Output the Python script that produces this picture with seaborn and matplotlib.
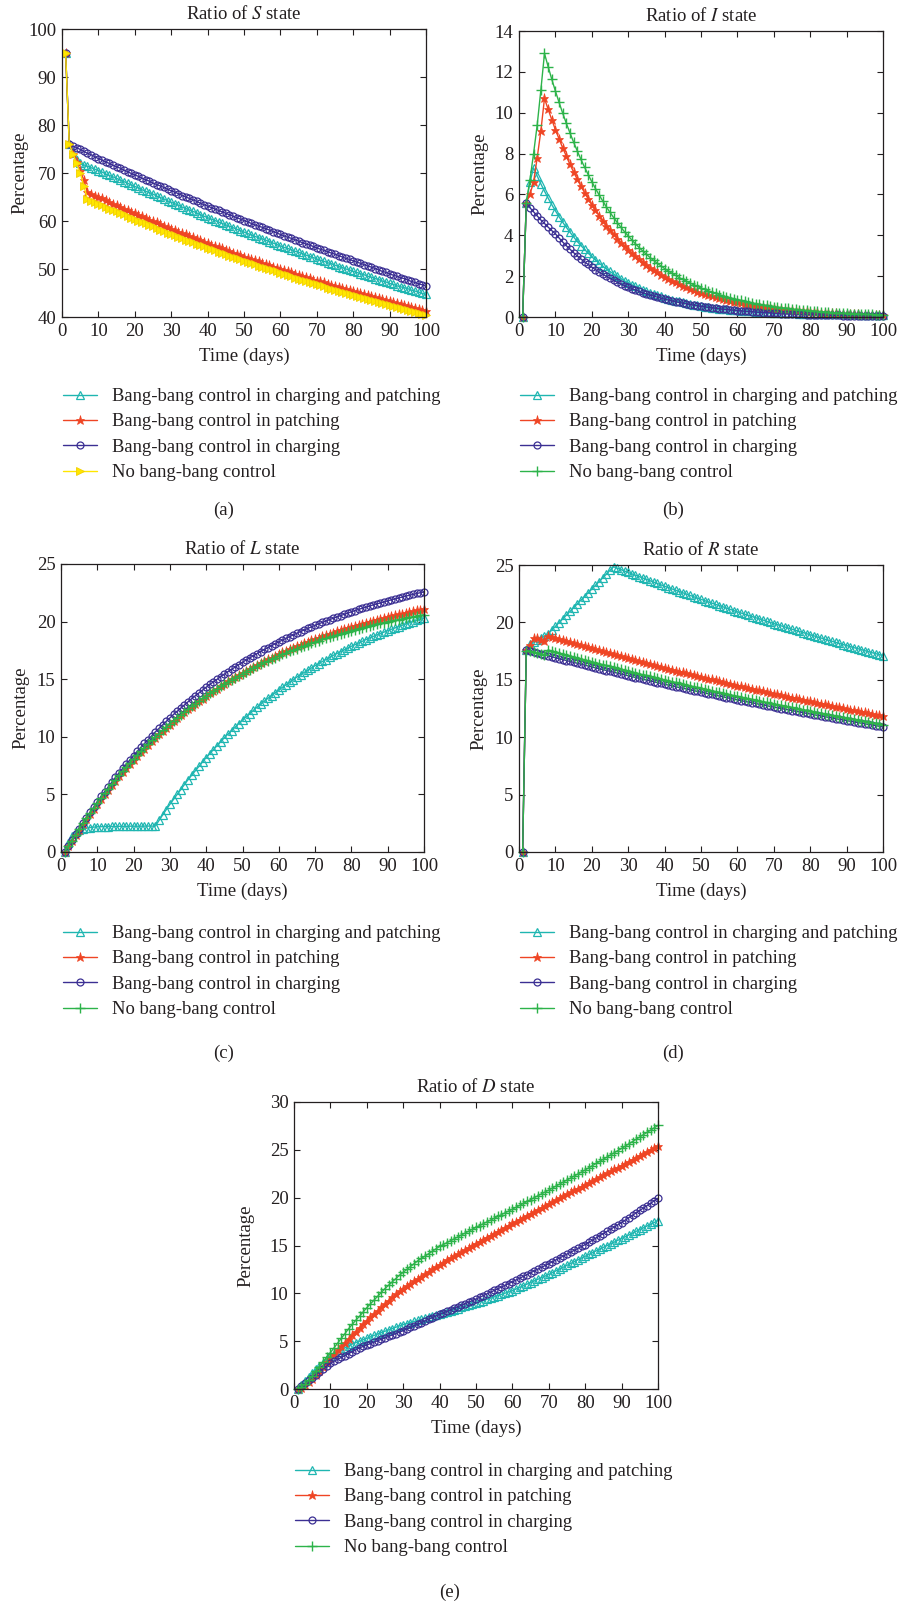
import matplotlib
matplotlib.use("Agg")
import matplotlib.pyplot as plt
from matplotlib.lines import Line2D
import pandas as pd
import seaborn as sns

# ---------------- data ----------------
days = list(range(1, 101))
series_names = ["Bang-bang control in charging and patching",
                "Bang-bang control in patching",
                "Bang-bang control in charging",
                "No bang-bang control"]
xticks = list(range(0, 101, 10))

S_both = [95.0, 76.0, 74.2, 72.8, 72.0, 71.7, 71.4, 71.1, 70.8, 70.5,
          70.2, 69.8, 69.5, 69.2, 68.9, 68.5, 68.2, 67.9, 67.5, 67.2,
          66.9, 66.5, 66.2, 65.9, 65.6, 65.2, 64.9, 64.6, 64.2, 63.9,
          63.6, 63.3, 62.9, 62.6, 62.3, 62.0, 61.7, 61.3, 61.0, 60.7,
          60.4, 60.1, 59.8, 59.5, 59.2, 58.9, 58.6, 58.3, 58.0, 57.7,
          57.4, 57.1, 56.8, 56.5, 56.3, 56.0, 55.7, 55.4, 55.1, 54.8,
          54.5, 54.3, 54.0, 53.7, 53.5, 53.2, 52.9, 52.6, 52.4, 52.1,
          51.8, 51.6, 51.3, 51.1, 50.8, 50.5, 50.3, 50.0, 49.8, 49.5,
          49.3, 49.0, 48.8, 48.5, 48.3, 48.0, 47.8, 47.5, 47.3, 47.0,
          46.8, 46.5, 46.3, 46.1, 45.9, 45.6, 45.4, 45.2, 44.9, 44.7]
S_patch = [95.0, 76.0, 74.0, 72.3, 70.5, 68.5, 66.0, 65.7, 65.3, 65.0,
           64.7, 64.3, 64.0, 63.6, 63.3, 63.0, 62.6, 62.3, 61.9, 61.6,
           61.3, 61.0, 60.6, 60.3, 60.0, 59.7, 59.4, 59.0, 58.7, 58.4,
           58.1, 57.8, 57.5, 57.2, 56.9, 56.6, 56.3, 56.0, 55.7, 55.4,
           55.1, 54.8, 54.6, 54.3, 54.0, 53.7, 53.4, 53.2, 52.9, 52.6,
           52.3, 52.1, 51.8, 51.6, 51.3, 51.0, 50.8, 50.5, 50.3, 50.0,
           49.8, 49.5, 49.3, 49.0, 48.8, 48.6, 48.3, 48.1, 47.8, 47.6,
           47.4, 47.2, 46.9, 46.7, 46.5, 46.3, 46.1, 45.8, 45.6, 45.4,
           45.2, 45.0, 44.8, 44.6, 44.4, 44.1, 43.9, 43.7, 43.5, 43.3,
           43.1, 42.9, 42.7, 42.5, 42.3, 42.1, 41.9, 41.7, 41.5, 41.3]
S_charge = [95.0, 76.0, 75.6, 75.3, 74.9, 74.5, 74.1, 73.8, 73.4, 73.0,
            72.7, 72.3, 72.0, 71.6, 71.3, 71.0, 70.6, 70.3, 69.9, 69.6,
            69.3, 68.9, 68.6, 68.3, 67.9, 67.6, 67.3, 67.0, 66.6, 66.3,
            66.0, 65.7, 65.3, 65.0, 64.7, 64.4, 64.1, 63.7, 63.4, 63.1,
            62.8, 62.5, 62.2, 61.9, 61.6, 61.3, 61.0, 60.7, 60.4, 60.1,
            59.8, 59.5, 59.2, 58.9, 58.7, 58.4, 58.1, 57.8, 57.5, 57.2,
            56.9, 56.6, 56.4, 56.1, 55.8, 55.5, 55.2, 55.0, 54.7, 54.4,
            54.1, 53.9, 53.6, 53.3, 53.1, 52.8, 52.5, 52.2, 52.0, 51.7,
            51.4, 51.2, 50.9, 50.6, 50.4, 50.1, 49.8, 49.5, 49.3, 49.0,
            48.7, 48.5, 48.2, 48.0, 47.7, 47.4, 47.2, 46.9, 46.7, 46.4]
S_none = [95.0, 76.0, 74.0, 72.0, 70.0, 67.3, 64.5, 64.2, 63.9, 63.6,
          63.3, 63.0, 62.6, 62.3, 62.0, 61.7, 61.4, 61.0, 60.7, 60.4,
          60.1, 59.8, 59.5, 59.2, 58.9, 58.5, 58.2, 57.9, 57.6, 57.3,
          57.0, 56.7, 56.4, 56.1, 55.9, 55.6, 55.3, 55.0, 54.7, 54.4,
          54.1, 53.9, 53.6, 53.3, 53.1, 52.8, 52.5, 52.2, 52.0, 51.7,
          51.5, 51.2, 51.0, 50.7, 50.5, 50.2, 50.0, 49.7, 49.5, 49.2,
          49.0, 48.7, 48.5, 48.2, 48.0, 47.8, 47.5, 47.3, 47.0, 46.8,
          46.6, 46.4, 46.1, 45.9, 45.7, 45.5, 45.3, 45.0, 44.8, 44.6,
          44.4, 44.2, 44.0, 43.8, 43.6, 43.3, 43.1, 42.9, 42.7, 42.5,
          42.3, 42.1, 41.9, 41.7, 41.5, 41.3, 41.1, 40.9, 40.7, 40.5]

I_both = [0.0, 5.6, 6.6, 7.3, 6.90, 6.52, 6.16, 5.82, 5.50, 5.20,
          4.91, 4.64, 4.39, 4.15, 3.92, 3.70, 3.50, 3.31, 3.13, 2.95,
          2.79, 2.64, 2.49, 2.36, 2.23, 2.10, 1.99, 1.88, 1.77, 1.68,
          1.58, 1.50, 1.42, 1.34, 1.26, 1.19, 1.13, 1.07, 1.01, 0.95,
          0.90, 0.85, 0.80, 0.76, 0.72, 0.68, 0.64, 0.61, 0.57, 0.54,
          0.51, 0.49, 0.46, 0.44, 0.41, 0.39, 0.37, 0.35, 0.34, 0.32,
          0.31, 0.29, 0.28, 0.27, 0.26, 0.25, 0.24, 0.23, 0.22, 0.21,
          0.21, 0.20, 0.19, 0.19, 0.18, 0.18, 0.17, 0.17, 0.16, 0.16,
          0.16, 0.15, 0.15, 0.15, 0.14, 0.14, 0.14, 0.14, 0.13, 0.13,
          0.13, 0.13, 0.13, 0.12, 0.12, 0.12, 0.12, 0.12, 0.12, 0.12]
I_patch = [0.0, 5.6, 6.0, 6.6, 7.8, 9.1, 10.7, 10.17, 9.66, 9.17,
           8.72, 8.28, 7.87, 7.47, 7.10, 6.74, 6.41, 6.09, 5.78, 5.49,
           5.22, 4.96, 4.71, 4.47, 4.25, 4.04, 3.84, 3.64, 3.46, 3.29,
           3.12, 2.97, 2.82, 2.68, 2.54, 2.42, 2.30, 2.18, 2.07, 1.97,
           1.87, 1.78, 1.69, 1.60, 1.52, 1.45, 1.37, 1.31, 1.24, 1.18,
           1.12, 1.06, 1.01, 0.96, 0.91, 0.87, 0.82, 0.78, 0.74, 0.71,
           0.67, 0.64, 0.61, 0.57, 0.55, 0.52, 0.49, 0.47, 0.45, 0.42,
           0.40, 0.38, 0.36, 0.34, 0.33, 0.31, 0.30, 0.28, 0.27, 0.25,
           0.24, 0.23, 0.22, 0.21, 0.20, 0.19, 0.18, 0.17, 0.16, 0.15,
           0.14, 0.14, 0.13, 0.12, 0.12, 0.11, 0.11, 0.10, 0.10, 0.09]
I_charge = [0.0, 5.6, 5.35, 5.15, 4.95, 4.75, 4.58, 4.40, 4.23, 4.07,
            3.87, 3.67, 3.49, 3.32, 3.15, 2.99, 2.84, 2.70, 2.57, 2.44,
            2.32, 2.20, 2.09, 1.99, 1.89, 1.79, 1.70, 1.62, 1.54, 1.46,
            1.39, 1.32, 1.25, 1.19, 1.13, 1.07, 1.02, 0.97, 0.92, 0.87,
            0.83, 0.79, 0.75, 0.71, 0.68, 0.64, 0.61, 0.58, 0.55, 0.52,
            0.50, 0.47, 0.45, 0.43, 0.40, 0.38, 0.37, 0.35, 0.33, 0.31,
            0.30, 0.28, 0.27, 0.26, 0.24, 0.23, 0.22, 0.21, 0.20, 0.19,
            0.18, 0.17, 0.16, 0.15, 0.15, 0.14, 0.13, 0.13, 0.12, 0.11,
            0.11, 0.10, 0.10, 0.09, 0.09, 0.08, 0.08, 0.08, 0.07, 0.07,
            0.06, 0.06, 0.06, 0.06, 0.05, 0.05, 0.05, 0.05, 0.04, 0.04]
I_none = [0.0, 5.6, 6.7, 8.0, 9.4, 11.1, 12.9, 12.26, 11.64, 11.06,
          10.51, 9.98, 9.48, 9.01, 8.56, 8.13, 7.72, 7.34, 6.97, 6.62,
          6.29, 5.98, 5.68, 5.39, 5.12, 4.87, 4.62, 4.39, 4.17, 3.97,
          3.77, 3.58, 3.40, 3.23, 3.07, 2.91, 2.77, 2.63, 2.50, 2.37,
          2.25, 2.14, 2.04, 1.93, 1.84, 1.75, 1.66, 1.58, 1.50, 1.42,
          1.35, 1.28, 1.22, 1.16, 1.10, 1.04, 0.99, 0.94, 0.90, 0.85,
          0.81, 0.77, 0.73, 0.69, 0.66, 0.63, 0.59, 0.57, 0.54, 0.51,
          0.48, 0.46, 0.44, 0.42, 0.39, 0.37, 0.36, 0.34, 0.32, 0.31,
          0.29, 0.27, 0.26, 0.25, 0.24, 0.22, 0.21, 0.20, 0.19, 0.18,
          0.17, 0.17, 0.16, 0.15, 0.14, 0.13, 0.13, 0.12, 0.11, 0.11]

L_both = [0.00, 0.80, 1.35, 1.70, 1.90, 2.00, 2.07, 2.12, 2.16, 2.19,
          2.20, 2.21, 2.21, 2.22, 2.22, 2.23, 2.23, 2.23, 2.24, 2.24,
          2.24, 2.24, 2.25, 2.25, 2.25, 2.25, 2.74, 3.21, 3.68, 4.14,
          4.57, 5.00, 5.42, 5.85, 6.28, 6.66, 7.05, 7.43, 7.82, 8.20,
          8.54, 8.89, 9.23, 9.58, 9.92, 10.23, 10.54, 10.84, 11.15, 11.46,
          11.74, 12.01, 12.29, 12.56, 12.84, 13.09, 13.34, 13.58, 13.83, 14.08,
          14.30, 14.52, 14.75, 14.97, 15.19, 15.39, 15.59, 15.78, 15.98, 16.18,
          16.36, 16.54, 16.71, 16.89, 17.07, 17.23, 17.39, 17.54, 17.70, 17.86,
          18.00, 18.15, 18.29, 18.44, 18.58, 18.71, 18.84, 18.96, 19.09, 19.22,
          19.33, 19.45, 19.56, 19.68, 19.79, 19.89, 20.00, 20.10, 20.20, 20.30]
L_patch = [0.00, 0.49, 0.97, 1.46, 1.94, 2.43, 2.87, 3.30, 3.74, 4.17,
           4.61, 5.00, 5.39, 5.79, 6.18, 6.57, 6.92, 7.28, 7.63, 7.99,
           8.34, 8.66, 8.97, 9.29, 9.60, 9.92, 10.21, 10.49, 10.78, 11.06,
           11.35, 11.61, 11.86, 12.12, 12.37, 12.63, 12.86, 13.09, 13.32, 13.55,
           13.78, 13.99, 14.19, 14.40, 14.60, 14.81, 15.00, 15.18, 15.37, 15.55,
           15.74, 15.91, 16.08, 16.24, 16.41, 16.58, 16.73, 16.88, 17.03, 17.18,
           17.33, 17.47, 17.60, 17.74, 17.87, 18.01, 18.13, 18.25, 18.37, 18.49,
           18.61, 18.72, 18.83, 18.94, 19.05, 19.16, 19.26, 19.36, 19.45, 19.55,
           19.65, 19.74, 19.83, 19.91, 20.00, 20.09, 20.17, 20.25, 20.32, 20.40,
           20.48, 20.55, 20.62, 20.70, 20.77, 20.84, 20.91, 20.97, 21.04, 21.10]
L_charge = [0.00, 0.51, 1.01, 1.52, 2.02, 2.53, 2.99, 3.45, 3.90, 4.36,
            4.82, 5.23, 5.64, 6.06, 6.47, 6.88, 7.25, 7.62, 8.00, 8.37,
            8.74, 9.08, 9.42, 9.75, 10.09, 10.43, 10.73, 11.03, 11.34, 11.64,
            11.94, 12.21, 12.49, 12.76, 13.04, 13.31, 13.56, 13.81, 14.05, 14.30,
            14.55, 14.77, 14.99, 15.22, 15.44, 15.66, 15.86, 16.06, 16.27, 16.47,
            16.67, 16.85, 17.03, 17.22, 17.40, 17.58, 17.74, 17.91, 18.07, 18.24,
            18.40, 18.55, 18.70, 18.84, 18.99, 19.14, 19.27, 19.41, 19.54, 19.68,
            19.81, 19.93, 20.05, 20.17, 20.29, 20.41, 20.52, 20.63, 20.74, 20.85,
            20.96, 21.06, 21.16, 21.25, 21.35, 21.45, 21.54, 21.62, 21.71, 21.80,
            21.89, 21.97, 22.05, 22.13, 22.21, 22.29, 22.36, 22.44, 22.51, 22.58]
L_none = [0.00, 0.50, 0.99, 1.49, 1.98, 2.48, 2.92, 3.36, 3.81, 4.25,
          4.69, 5.09, 5.48, 5.88, 6.27, 6.67, 7.02, 7.37, 7.73, 8.08,
          8.43, 8.74, 9.06, 9.37, 9.69, 10.00, 10.28, 10.56, 10.85, 11.13,
          11.41, 11.66, 11.91, 12.16, 12.41, 12.66, 12.88, 13.10, 13.33, 13.55,
          13.77, 13.97, 14.17, 14.37, 14.57, 14.77, 14.95, 15.13, 15.30, 15.48,
          15.66, 15.82, 15.98, 16.13, 16.29, 16.45, 16.59, 16.73, 16.88, 17.02,
          17.16, 17.29, 17.41, 17.54, 17.66, 17.79, 17.90, 18.01, 18.13, 18.24,
          18.35, 18.45, 18.55, 18.65, 18.75, 18.85, 18.94, 19.03, 19.12, 19.21,
          19.30, 19.38, 19.46, 19.54, 19.62, 19.70, 19.77, 19.84, 19.91, 19.98,
          20.05, 20.11, 20.18, 20.24, 20.31, 20.37, 20.43, 20.48, 20.54, 20.60]

R_both = [0.00, 17.60, 18.10, 18.30, 18.50, 18.65, 18.80, 19.00, 19.33, 19.65,
          19.98, 20.30, 20.63, 20.95, 21.28, 21.60, 21.93, 22.25, 22.58, 22.90,
          23.23, 23.55, 23.88, 24.20, 24.53, 24.85, 24.72, 24.60, 24.47, 24.35,
          24.23, 24.11, 23.99, 23.87, 23.75, 23.63, 23.51, 23.39, 23.27, 23.15,
          23.04, 22.92, 22.81, 22.69, 22.58, 22.47, 22.35, 22.24, 22.12, 22.01,
          21.90, 21.79, 21.68, 21.57, 21.47, 21.36, 21.25, 21.14, 21.03, 20.92,
          20.82, 20.72, 20.61, 20.51, 20.41, 20.31, 20.21, 20.10, 20.00, 19.90,
          19.80, 19.70, 19.61, 19.51, 19.41, 19.31, 19.21, 19.12, 19.02, 18.92,
          18.83, 18.73, 18.64, 18.54, 18.45, 18.36, 18.26, 18.17, 18.07, 17.98,
          17.89, 17.80, 17.72, 17.63, 17.54, 17.45, 17.36, 17.28, 17.19, 17.10]
R_patch = [0.00, 17.60, 18.00, 18.60, 18.60, 18.50, 18.40, 18.85, 18.76, 18.66,
           18.57, 18.48, 18.38, 18.29, 18.20, 18.11, 18.02, 17.92, 17.83, 17.74,
           17.65, 17.57, 17.48, 17.39, 17.31, 17.22, 17.13, 17.04, 16.96, 16.87,
           16.79, 16.70, 16.62, 16.54, 16.46, 16.37, 16.29, 16.21, 16.12, 16.04,
           15.96, 15.88, 15.80, 15.72, 15.65, 15.57, 15.49, 15.41, 15.33, 15.25,
           15.18, 15.10, 15.03, 14.95, 14.88, 14.80, 14.73, 14.65, 14.58, 14.50,
           14.43, 14.36, 14.29, 14.22, 14.15, 14.07, 14.00, 13.93, 13.86, 13.79,
           13.72, 13.65, 13.59, 13.52, 13.45, 13.38, 13.31, 13.25, 13.18, 13.11,
           13.05, 12.98, 12.92, 12.85, 12.79, 12.72, 12.66, 12.59, 12.53, 12.46,
           12.40, 12.34, 12.28, 12.22, 12.16, 12.09, 12.03, 11.97, 11.91, 11.85]
R_charge = [0.00, 17.60, 17.52, 17.43, 17.35, 17.26, 17.18, 17.09, 17.01, 16.92,
            16.84, 16.76, 16.68, 16.60, 16.52, 16.44, 16.36, 16.28, 16.20, 16.12,
            16.04, 15.97, 15.89, 15.81, 15.74, 15.66, 15.58, 15.50, 15.43, 15.35,
            15.28, 15.20, 15.13, 15.05, 14.98, 14.91, 14.83, 14.76, 14.68, 14.61,
            14.54, 14.47, 14.40, 14.33, 14.27, 14.20, 14.13, 14.06, 13.99, 13.92,
            13.85, 13.79, 13.72, 13.65, 13.59, 13.52, 13.45, 13.38, 13.32, 13.25,
            13.19, 13.12, 13.06, 13.00, 12.94, 12.87, 12.81, 12.75, 12.68, 12.62,
            12.56, 12.50, 12.44, 12.38, 12.32, 12.26, 12.20, 12.14, 12.08, 12.02,
            11.96, 11.90, 11.85, 11.79, 11.73, 11.67, 11.61, 11.56, 11.50, 11.44,
            11.39, 11.33, 11.28, 11.22, 11.17, 11.11, 11.06, 11.01, 10.95, 10.90]
R_none = [0.00, 17.55, 17.50, 17.42, 17.34, 17.26, 17.18, 17.60, 17.51, 17.42,
          17.34, 17.25, 17.17, 17.08, 17.00, 16.91, 16.83, 16.74, 16.66, 16.57,
          16.49, 16.41, 16.33, 16.25, 16.17, 16.08, 16.00, 15.92, 15.84, 15.76,
          15.68, 15.61, 15.53, 15.45, 15.38, 15.30, 15.22, 15.14, 15.07, 14.99,
          14.92, 14.84, 14.77, 14.70, 14.63, 14.55, 14.48, 14.41, 14.33, 14.26,
          14.19, 14.12, 14.05, 13.98, 13.91, 13.84, 13.77, 13.70, 13.63, 13.56,
          13.49, 13.43, 13.36, 13.30, 13.23, 13.16, 13.10, 13.03, 12.97, 12.90,
          12.84, 12.77, 12.71, 12.65, 12.59, 12.52, 12.46, 12.40, 12.33, 12.27,
          12.21, 12.15, 12.09, 12.03, 11.97, 11.91, 11.85, 11.79, 11.73, 11.67,
          11.61, 11.56, 11.50, 11.44, 11.39, 11.33, 11.27, 11.21, 11.16, 11.10]

D_both = [0.00, 0.40, 0.85, 1.30, 1.70, 2.05, 2.40, 2.75, 3.10, 3.40,
          3.65, 3.90, 4.10, 4.30, 4.50, 4.70, 4.85, 5.00, 5.15, 5.30,
          5.45, 5.60, 5.75, 5.90, 6.04, 6.18, 6.32, 6.46, 6.60, 6.73,
          6.84, 6.95, 7.06, 7.17, 7.28, 7.39, 7.50, 7.61, 7.72, 7.83,
          7.95, 8.06, 8.18, 8.29, 8.41, 8.52, 8.64, 8.75, 8.87, 8.98,
          9.11, 9.24, 9.37, 9.50, 9.63, 9.76, 9.89, 10.02, 10.15, 10.28,
          10.45, 10.62, 10.79, 10.96, 11.13, 11.30, 11.47, 11.64, 11.81, 11.98,
          12.17, 12.36, 12.55, 12.74, 12.93, 13.12, 13.31, 13.50, 13.69, 13.88,
          14.07, 14.25, 14.44, 14.62, 14.81, 14.99, 15.18, 15.36, 15.55, 15.73,
          15.92, 16.10, 16.29, 16.48, 16.67, 16.85, 17.04, 17.23, 17.41, 17.60]
D_patch = [0.00, 0.15, 0.40, 0.70, 1.05, 1.45, 1.85, 2.30, 2.80, 3.25,
           3.65, 4.05, 4.45, 4.85, 5.25, 5.65, 6.00, 6.40, 6.80, 7.15,
           7.50, 7.85, 8.20, 8.55, 8.90, 9.25, 9.60, 9.90, 10.20, 10.50,
           10.75, 11.00, 11.25, 11.50, 11.75, 12.00, 12.25, 12.50, 12.75, 13.00,
           13.22, 13.44, 13.66, 13.88, 14.10, 14.32, 14.54, 14.76, 14.98, 15.20,
           15.41, 15.62, 15.83, 16.04, 16.25, 16.46, 16.67, 16.88, 17.09, 17.30,
           17.50, 17.71, 17.91, 18.12, 18.32, 18.53, 18.73, 18.94, 19.14, 19.35,
           19.55, 19.75, 19.95, 20.15, 20.35, 20.55, 20.75, 20.95, 21.15, 21.35,
           21.55, 21.75, 21.95, 22.15, 22.35, 22.55, 22.75, 22.95, 23.15, 23.35,
           23.56, 23.76, 23.97, 24.17, 24.38, 24.58, 24.79, 24.99, 25.20, 25.40]
D_charge = [0.00, 0.30, 0.60, 0.90, 1.20, 1.50, 1.80, 2.10, 2.40, 2.70,
            2.90, 3.10, 3.30, 3.50, 3.70, 3.90, 4.10, 4.30, 4.45, 4.60,
            4.75, 4.90, 5.05, 5.20, 5.35, 5.50, 5.65, 5.80, 5.95, 6.10,
            6.27, 6.44, 6.61, 6.78, 6.95, 7.12, 7.29, 7.46, 7.63, 7.80,
            7.96, 8.12, 8.28, 8.44, 8.60, 8.76, 8.92, 9.08, 9.24, 9.40,
            9.58, 9.76, 9.94, 10.12, 10.30, 10.48, 10.66, 10.84, 11.02, 11.20,
            11.39, 11.58, 11.77, 11.96, 12.15, 12.34, 12.53, 12.72, 12.91, 13.10,
            13.30, 13.50, 13.70, 13.90, 14.10, 14.30, 14.50, 14.70, 14.90, 15.10,
            15.33, 15.56, 15.79, 16.02, 16.25, 16.48, 16.71, 16.94, 17.17, 17.40,
            17.65, 17.91, 18.16, 18.41, 18.67, 18.92, 19.17, 19.42, 19.68, 19.93]
D_none = [0.00, 0.20, 0.50, 0.90, 1.35, 1.85, 2.35, 2.85, 3.35, 3.80,
          4.30, 4.80, 5.30, 5.80, 6.30, 6.75, 7.20, 7.60, 8.05, 8.50,
          8.90, 9.30, 9.70, 10.10, 10.50, 10.85, 11.20, 11.55, 11.90, 12.20,
          12.50, 12.80, 13.10, 13.40, 13.65, 13.90, 14.15, 14.40, 14.65, 14.90,
          15.10, 15.30, 15.50, 15.70, 15.90, 16.10, 16.30, 16.50, 16.70, 16.90,
          17.09, 17.28, 17.47, 17.66, 17.85, 18.04, 18.23, 18.42, 18.61, 18.80,
          19.00, 19.20, 19.40, 19.60, 19.80, 20.00, 20.20, 20.40, 20.60, 20.80,
          21.01, 21.22, 21.43, 21.64, 21.85, 22.06, 22.27, 22.48, 22.69, 22.90,
          23.13, 23.35, 23.58, 23.80, 24.03, 24.25, 24.48, 24.70, 24.93, 25.15,
          25.39, 25.63, 25.87, 26.11, 26.35, 26.59, 26.83, 27.07, 27.31, 27.55]

# ---------------- style ----------------
sns.set_theme(style="ticks")
plt.rcParams["font.family"] = ["Liberation Serif", "DejaVu Serif"]
plt.rcParams["mathtext.fontset"] = "stix"
TXT = "#231f20"
plt.rcParams["text.color"] = TXT
plt.rcParams["axes.labelcolor"] = TXT
plt.rcParams["xtick.color"] = TXT
plt.rcParams["ytick.color"] = TXT

CYAN, RED, BLUE, YELLOW, GREEN = "#1fb6b1", "#ef4524", "#3b2f93", "#ffe600", "#2db34a"

st_cyan = dict(color=CYAN, marker="^", markersize=6, markerfacecolor="none",
               markeredgecolor=CYAN, markeredgewidth=0.9, linewidth=1.0)
st_red = dict(color=RED, marker="*", markersize=6.5, markerfacecolor=RED,
              markeredgecolor=RED, markeredgewidth=0.5, linewidth=1.0)
st_blue = dict(color=BLUE, marker="o", markersize=5, markerfacecolor="none",
               markeredgecolor=BLUE, markeredgewidth=0.9, linewidth=1.0)
st_yellow = dict(color=YELLOW, marker=">", markersize=6, markerfacecolor=YELLOW,
                 markeredgecolor="#f2cf00", markeredgewidth=0.6, linewidth=1.0)
st_green = dict(color=GREEN, marker="+", markersize=6.5, markeredgecolor=GREEN,
                markeredgewidth=1.0, linewidth=1.0)

W, H = 900, 1602
fig = plt.figure(figsize=(W / 100, H / 100), dpi=100)


def fx(px):
    return px / W


def fy(py):
    return 1 - py / H


def panel(box, letter, data, styles, ylim, yticks, ylab_off, leg_xy, tag_xy):
    l, t, r, b = box
    ax = fig.add_axes([fx(l), fy(b), (r - l) / W, (b - t) / H])
    for vals, st in zip(data, styles):
        sns.lineplot(x=days, y=vals, ax=ax, clip_on=False, legend=False, **st)
    ax.set_xlim(0, 100)
    ax.set_ylim(*ylim)
    ax.set_xticks(xticks)
    ax.set_yticks(yticks)
    ax.tick_params(direction="in", top=True, right=True, length=4, width=0.8,
                   labelsize=13.5, pad=4)
    for sp in ax.spines.values():
        sp.set_linewidth(0.9)
        sp.set_color("#231f20")
    ax.set_title(f"Ratio of ${letter}$ state", fontsize=13.5, pad=7.5)
    ax.set_xlabel("Time (days)", fontsize=13.5)
    ax.set_ylabel("Percentage", fontsize=13.5)
    ax.xaxis.set_label_coords(0.5, -31 / (b - t))
    ax.yaxis.set_label_coords(-ylab_off / (r - l), 0.5)
    handles = [Line2D([], [], **st) for st in styles]
    ax.legend(handles, series_names, loc="upper left",
              bbox_to_anchor=(fx(leg_xy[0]), fy(leg_xy[1])),
              bbox_transform=fig.transFigure, frameon=False, fontsize=13.4,
              borderpad=0, borderaxespad=0, handlelength=1.85,
              handletextpad=0.8, labelspacing=0.45, numpoints=1)
    fig.text(fx(tag_xy[0]), fy(tag_xy[1]), f"({chr(96 + tag_xy[2])})",
             ha="center", va="center", fontsize=13.5)
    return ax


std4 = [st_cyan, st_red, st_blue, st_green]

panel((62, 29, 426, 317), "S", [S_both, S_patch, S_charge, S_none],
      [st_cyan, st_red, st_blue, st_yellow], (40, 100), list(range(40, 101, 10)),
      33.7, (63, 388), (224, 510, 1))
panel((519, 31, 883, 317), "I", [I_both, I_patch, I_charge, I_none],
      std4, (0, 14), list(range(0, 15, 2)), 30.7, (520, 388), (673, 510, 2))
panel((61, 564, 424, 852), "L", [L_both, L_patch, L_charge, L_none],
      std4, (0, 25), list(range(0, 26, 5)), 31.2, (63, 925), (224, 1053, 3))
panel((519, 565, 883, 852), "R", [R_both, R_patch, R_charge, R_none],
      std4, (0, 25), list(range(0, 26, 5)), 31.5, (520, 925), (673, 1053, 4))
panel((294, 1102, 658, 1389), "D", [D_both, D_patch, D_charge, D_none],
      std4, (0, 30), list(range(0, 31, 5)), 39.9, (295, 1463), (450, 1592, 5))

fig.savefig("out.png", dpi=100, facecolor="white")
